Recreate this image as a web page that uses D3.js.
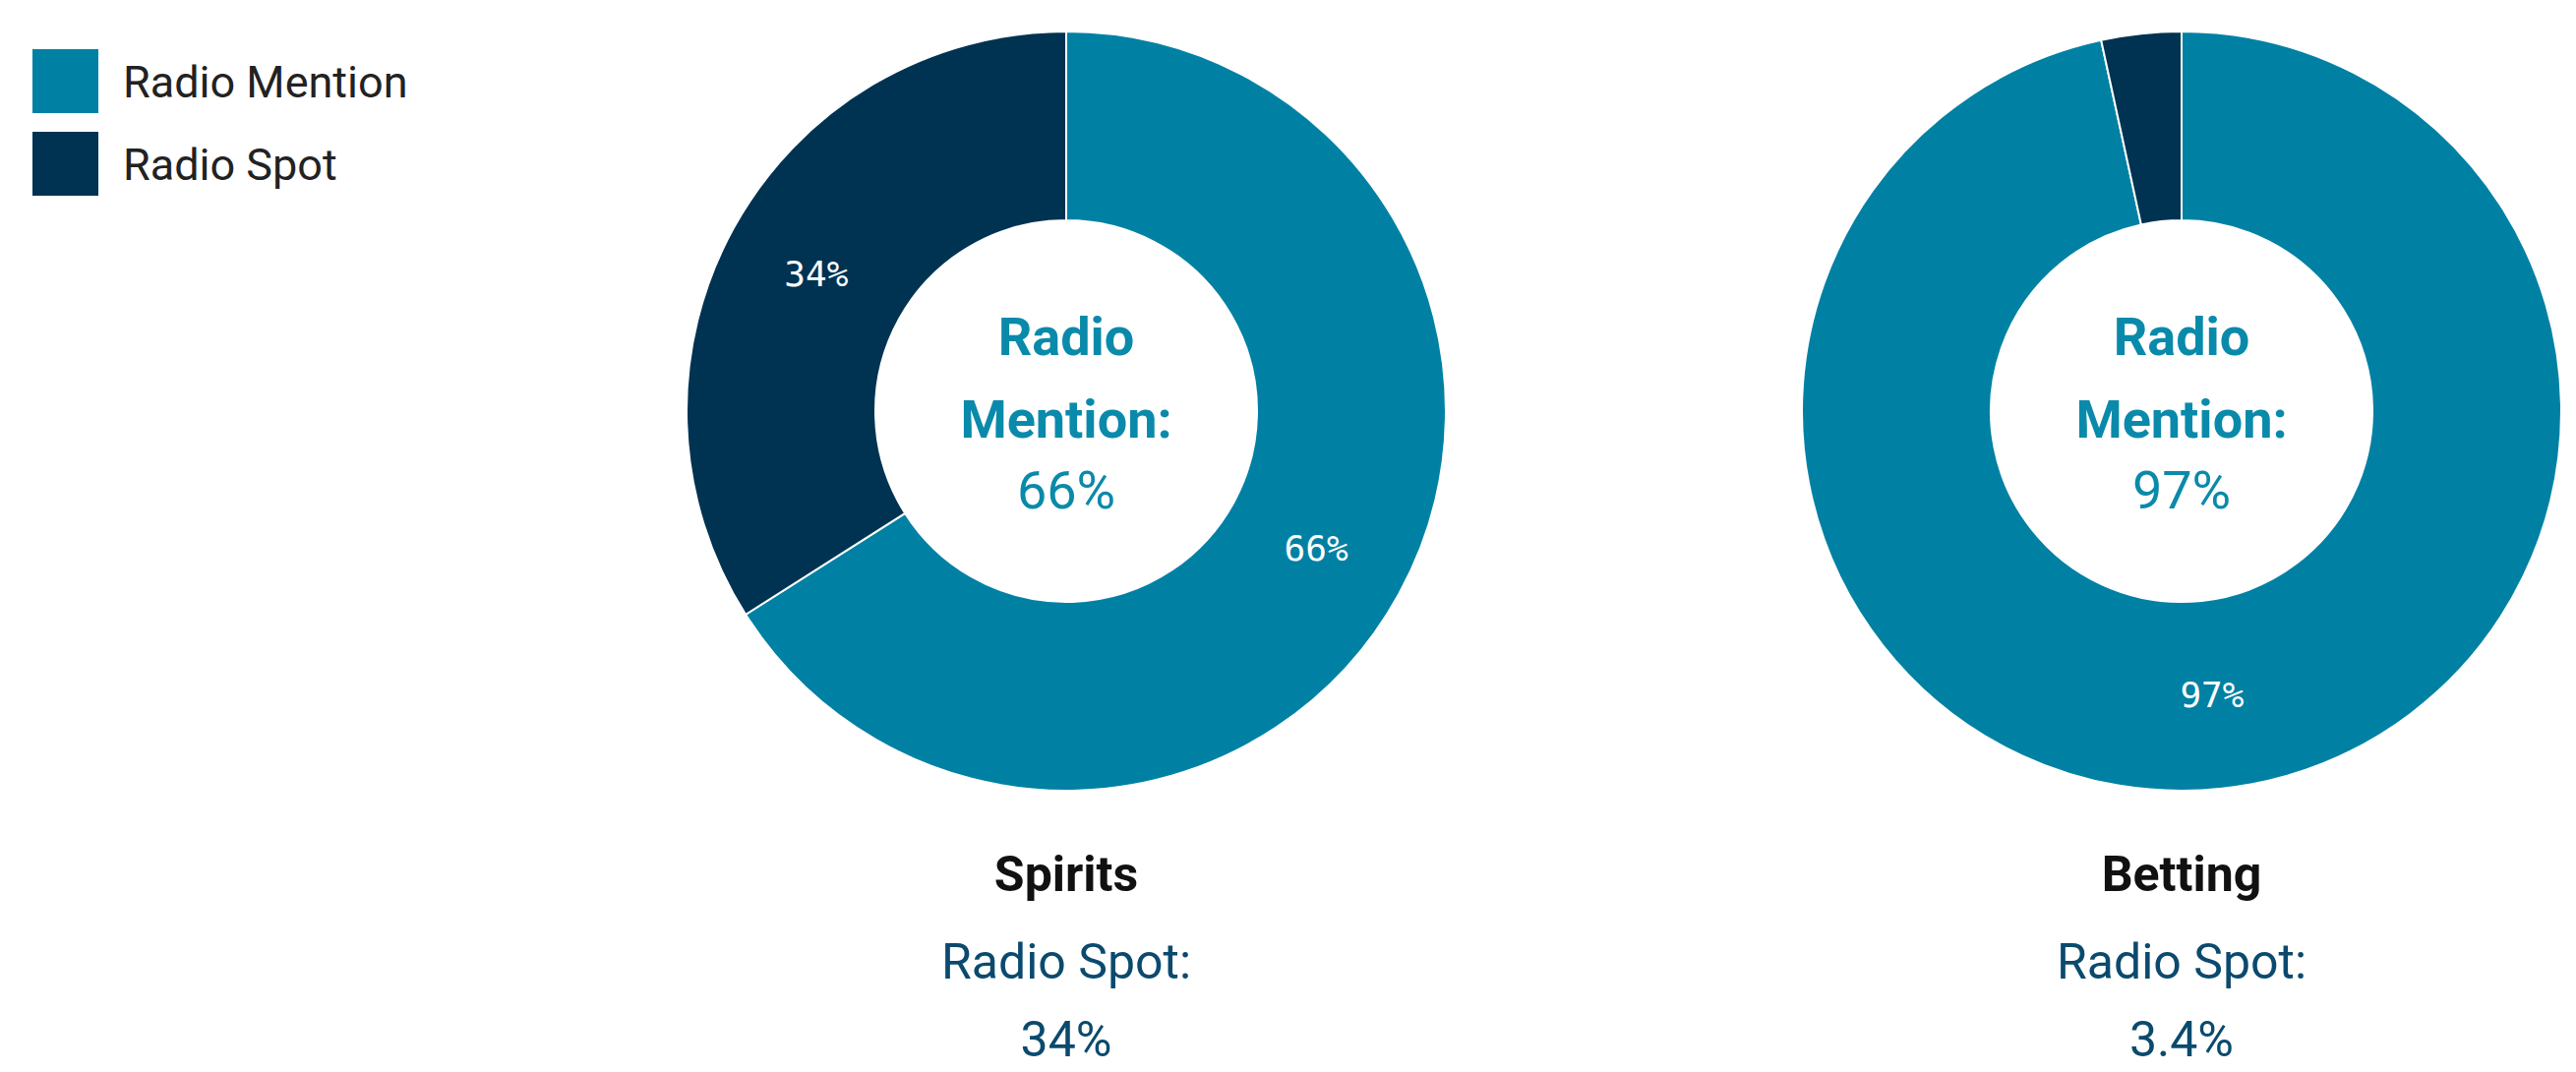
<!DOCTYPE html>
<html><head><meta charset="utf-8">
<script src="https://cdn.jsdelivr.net/npm/d3@7"></script>
<style>body{margin:0;background:#fff}</style></head>
<body><svg id="c" width="2619" height="1090"></svg>
<script>
const categories = ["Spirits", "Betting"];
const seriesNames = ["Radio Mention", "Radio Spot"];
const mentionValues = [66, 96.6];
const spotValues = [34, 3.4];
const mentionLabels = ["66%", "97%"];
const spotLabels = ["34%", "3.4%"];
const sliceLabels = [["66%", "34%"], ["97%", ""]];

const colors = d3.scaleOrdinal().domain(seriesNames).range(["#0081A4", "#003352"]);
const svg = d3.select("#c");
const font = "Roboto, 'Open Sans', sans-serif";
const x = d3.scalePoint().domain(categories).range([1084, 2218]);
const cy = 418, R = 386, r = 194;
const pie = d3.pie().sort(null).value(d => d.v);
const arc = d3.arc().innerRadius(r).outerRadius(R);

categories.forEach((cat, i) => {
  const g = svg.append("g").attr("transform", `translate(${x(cat)},${cy})`);
  const data = pie([{k: seriesNames[0], v: mentionValues[i]}, {k: seriesNames[1], v: spotValues[i]}]);
  g.selectAll("path").data(data).join("path").attr("d", arc)
    .attr("fill", d => colors(d.data.k)).attr("stroke", "#fff").attr("stroke-width", 2);
  g.selectAll("text.sl").data(data).join("text").attr("class", "sl")
    .attr("transform", d => `translate(${arc.centroid(d)})`)
    .attr("text-anchor", "middle").attr("dy", "0.35em")
    .attr("fill", "#fff").attr("font-family", "'DejaVu Sans Mono', monospace").attr("font-size", 36)
    .text((d, j) => sliceLabels[i][j]);
  const ct = [["Radio", -76, 700], ["Mention:", 8, 700], [mentionLabels[i], 80, 400]];
  ct.forEach(([t, dy, w]) => g.append("text").attr("text-anchor", "middle").attr("y", dy).attr("dy", "0.35em")
    .attr("fill", "#0a8aaa").attr("font-family", font).attr("font-size", 54).attr("font-weight", w).text(t));
  svg.append("text").attr("x", x(cat)).attr("y", 888).attr("dy", "0.35em").attr("text-anchor", "middle")
    .attr("font-family", font).attr("font-size", 50).attr("font-weight", 700).attr("fill", "#111").text(cat);
  svg.append("text").attr("x", x(cat)).attr("y", 977).attr("dy", "0.35em").attr("text-anchor", "middle")
    .attr("font-family", font).attr("font-size", 50).attr("fill", "#0b4a6e").text("Radio Spot:");
  svg.append("text").attr("x", x(cat)).attr("y", 1056).attr("dy", "0.35em").attr("text-anchor", "middle")
    .attr("font-family", font).attr("font-size", 50).attr("fill", "#0b4a6e").text(spotLabels[i]);
});

const lg = svg.append("g");
seriesNames.forEach((s, i) => {
  lg.append("rect").attr("x", 33).attr("y", 50 + i * 84).attr("width", 67).attr("height", 65).attr("fill", colors(s));
  lg.append("text").attr("x", 125).attr("y", 83 + i * 84).attr("dy", "0.35em")
    .attr("font-family", font).attr("font-size", 45).attr("fill", "#222").text(s);
});
</script></body></html>
